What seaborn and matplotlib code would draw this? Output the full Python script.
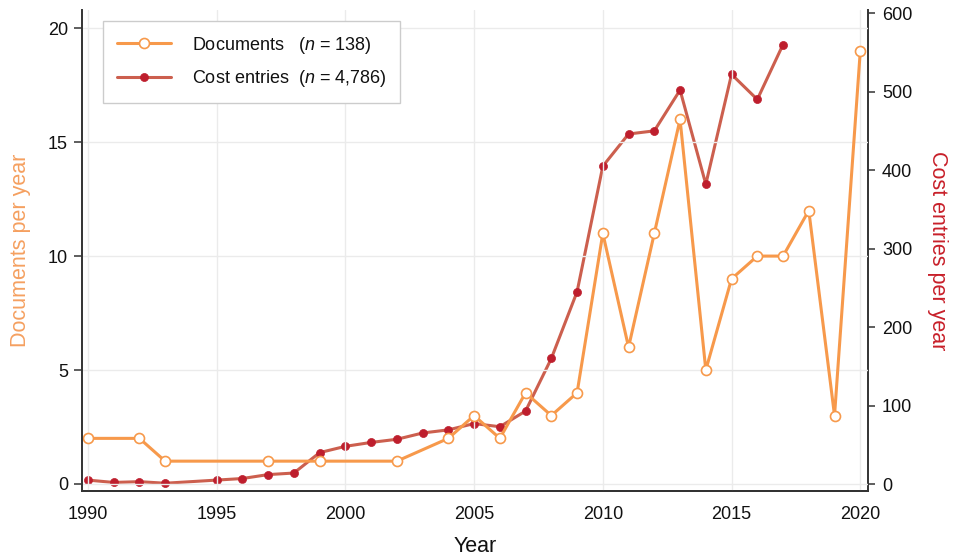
import matplotlib
matplotlib.use("Agg")
import matplotlib.pyplot as plt
import seaborn as sns
import pandas as pd

# ---- data ----
doc_years = [1990, 1992, 1993, 1997, 1999, 2002, 2004, 2005, 2006, 2007, 2008,
             2009, 2010, 2011, 2012, 2013, 2014, 2015, 2016, 2017, 2018, 2019, 2020]
doc_counts = [2, 2, 1, 1, 1, 1, 2, 3, 2, 4, 3,
              4, 11, 6, 11, 16, 5, 9, 10, 10, 12, 3, 19]

cost_years = [1990, 1991, 1992, 1993, 1995, 1996, 1997, 1998, 1999, 2000, 2001,
              2002, 2003, 2004, 2005, 2006, 2007, 2008, 2009, 2010, 2011, 2012,
              2013, 2014, 2015, 2016, 2017]
cost_counts = [5, 2, 3, 1, 5, 7, 12, 14, 40, 48, 53,
               57, 65, 69, 77, 73, 93, 160, 245, 405, 446, 450,
               502, 382, 522, 490, 560]

doc_label = "Documents   ($n$ = 138)"
cost_label = "Cost entries  ($n$ = 4,786)"
x_label = "Year"
left_label = "Documents per year"
right_label = "Cost entries per year"
x_ticks = [1990, 1995, 2000, 2005, 2010, 2015, 2020]
left_ticks = [0, 5, 10, 15, 20]
right_ticks = [0, 100, 200, 300, 400, 500, 600]

docs_df = pd.DataFrame({"year": doc_years, "count": doc_counts})
cost_df = pd.DataFrame({"year": cost_years, "count": cost_counts})

# ---- style ----
sns.set_theme(style="white")
plt.rcParams["font.family"] = ["Liberation Sans", "DejaVu Sans"]
plt.rcParams["mathtext.fontset"] = "custom"
plt.rcParams["mathtext.rm"] = "Liberation Sans"
plt.rcParams["mathtext.it"] = "Liberation Sans:italic"

ORANGE = "#F7994B"
ORANGE_TXT = "#F5A060"
RED_LINE = "#CC5F4E"
RED_MARK = "#BE1E2D"
RED_TXT = "#C8202A"
SPINE = "#333333"

W, H = 954, 558
fig = plt.figure(figsize=(W / 100, H / 100), dpi=100)
ax = fig.add_axes([82 / W, 1 - 491 / H, (868 - 82) / W, (491 - 10) / H])
ax2 = ax.twinx()

sns.lineplot(data=cost_df, x="year", y="count", ax=ax2, color=RED_LINE,
             linewidth=2.2, marker="o", markersize=5.8,
             markerfacecolor=RED_MARK, markeredgecolor=RED_MARK,
             markeredgewidth=0.5, label=cost_label)
sns.lineplot(data=docs_df, x="year", y="count", ax=ax, color=ORANGE,
             linewidth=2.2, marker="o", markersize=7.2,
             markerfacecolor="white", markeredgecolor=ORANGE,
             markeredgewidth=1.2, label=doc_label)

ax.set_zorder(ax2.get_zorder() + 1)
ax.patch.set_visible(False)

ax.set_xlim(1989.77, 2020.3)
ax.set_ylim(-0.31, 20.8)
ax2.set_ylim(-8.9, 604)
ax.set_xticks(x_ticks)
ax.set_yticks(left_ticks)
ax2.set_yticks(right_ticks)

ax.grid(True, color="#EBEBEB", linewidth=1.0)
ax2.grid(False)
ax.set_axisbelow(True)

for a in (ax, ax2):
    for s in a.spines.values():
        s.set_color(SPINE)
        s.set_linewidth(1.4)
    a.spines["top"].set_visible(False)
ax.spines["right"].set_visible(False)
ax2.spines["left"].set_visible(False)

ax.tick_params(axis="both", direction="out", length=6, width=1.1,
               color=SPINE, labelsize=13, labelcolor="#111111", pad=4)
ax.tick_params(axis="x", length=7)
ax2.tick_params(axis="y", direction="out", length=5, width=1.1,
                color=SPINE, labelsize=13, labelcolor="#111111", pad=5)

ax.set_xlabel(x_label, fontsize=15.5, color="#111111", labelpad=9)
ax.set_ylabel(left_label, fontsize=15.5, color=ORANGE_TXT, labelpad=12)
ax2.set_ylabel(right_label, fontsize=15.5, color=RED_TXT, rotation=270,
               labelpad=26)

h1, l1 = ax.get_legend_handles_labels()
h2, l2 = ax2.get_legend_handles_labels()
if ax2.get_legend() is not None:
    ax2.get_legend().remove()
leg = ax.legend(h1 + h2, l1 + l2, loc="upper left",
                bbox_to_anchor=(0.0267, 0.977), borderaxespad=0,
                fontsize=13, handlelength=3.0, handletextpad=1.2,
                borderpad=0.75, labelspacing=0.7, fancybox=False,
                framealpha=1, edgecolor="#CCCCCC")
leg.get_frame().set_linewidth(1.0)
for t in leg.get_texts():
    t.set_color("#111111")

fig.savefig("out.png", dpi=100)
